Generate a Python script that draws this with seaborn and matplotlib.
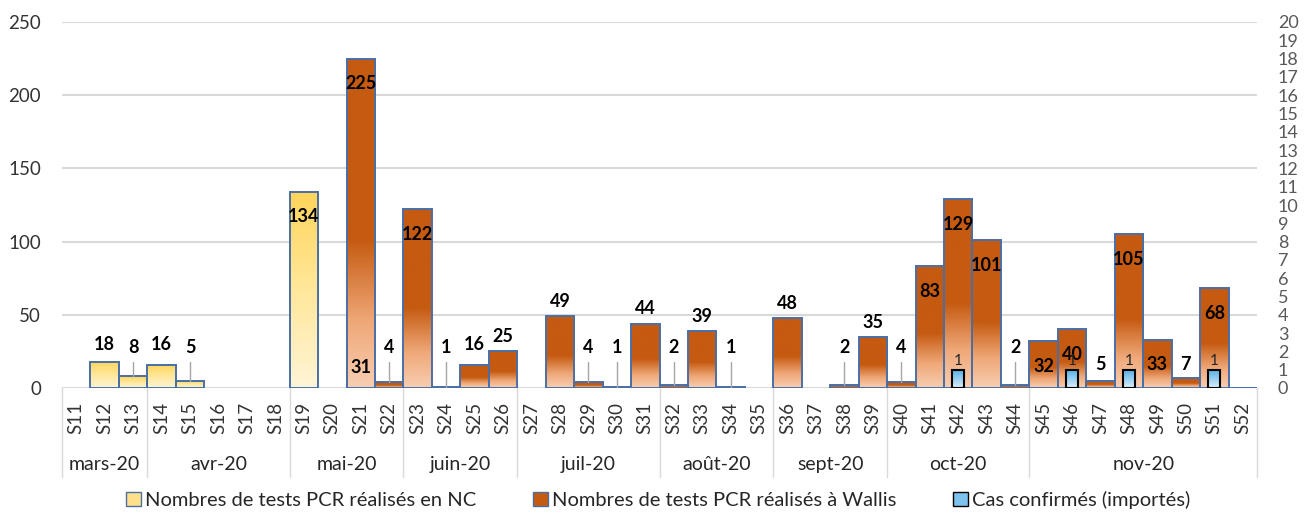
import numpy as np
import pandas as pd
import matplotlib
matplotlib.use("Agg")
import matplotlib.pyplot as plt
import seaborn as sns
from matplotlib.colors import LinearSegmentedColormap
from matplotlib.patches import Patch

# Weeks and months
weeks = ["S%d" % i for i in range(11, 53)]
months = ["mars-20", "avr-20", "mai-20", "juin-20", "juil-20",
          "août-20", "sept-20", "oct-20", "nov-20"]
month_sizes = [3, 5, 4, 4, 5, 4, 4, 5, 8]

# Tests PCR en NC
nc_weeks = ["S12", "S13", "S14", "S15", "S19", "S21"]
nc_values = [18, 8, 16, 5, 134, 31]

# Tests PCR à Wallis
wallis_weeks = ["S21", "S22", "S23", "S24", "S25", "S26", "S28", "S29", "S30",
                "S31", "S32", "S33", "S34", "S36", "S38", "S39", "S40", "S41",
                "S42", "S43", "S44", "S45", "S46", "S47", "S48", "S49", "S50",
                "S51", "S52"]
wallis_values = [225, 4, 122, 1, 16, 25, 49, 4, 1,
                 44, 2, 39, 1, 48, 2, 35, 4, 83,
                 129, 101, 2, 32, 40, 5, 105, 33, 7,
                 68, 0]

# Cas confirmés (importés), axe de droite
cas_weeks = ["S42", "S46", "S48", "S51"]
cas_values = [1, 1, 1, 1]

# label placement styles
inside_nc = ["S19", "S21"]
inside_wallis = ["S45", "S46", "S49"]
low_no_leader = ["S47", "S50"]

sns.set_style("white")
plt.rcParams["font.family"] = ["Lato", "DejaVu Sans"]

df_nc = pd.DataFrame({"week": nc_weeks, "value": nc_values})
df_wallis = pd.DataFrame({"week": wallis_weeks, "value": wallis_values})
df_cas = pd.DataFrame({"week": cas_weeks, "value": cas_values})

fig = plt.figure(figsize=(13.09, 5.13), dpi=100)
ax = fig.add_axes([62 / 1309, 1 - 388 / 513, 1195 / 1309, 366 / 513])

edge = "#4A6FA5"
cmap_nc = LinearSegmentedColormap.from_list("nc", ["#FFF5D6", "#FFE79A", "#FFD45A"])
cmap_wal = LinearSegmentedColormap.from_list(
    "wal", [(0, "#F8CEB2"), (0.2, "#EFA878"), (0.45, "#C55A11"), (1, "#C55A11")])
cmap_cas = LinearSegmentedColormap.from_list("cas", ["#DDEFFB", "#4FAEE6"])

grad = np.linspace(0, 1, 256).reshape(-1, 1)


def gradient_bars(axis, bars, cmap, z):
    for bar in bars:
        x, w, h = bar.get_x(), bar.get_width(), bar.get_height()
        bar.set_facecolor("none")
        bar.set_zorder(z + 0.1)
        if h <= 0:
            continue
        im = axis.imshow(grad, extent=[x, x + w, 0, h], origin="lower",
                         aspect="auto", cmap=cmap, zorder=z, interpolation="bilinear")
        im.set_clip_path(bar)


n0 = len(ax.patches)
sns.barplot(data=df_nc, x="week", y="value", order=weeks, width=1.0, ax=ax,
            color="#FFD966", edgecolor=edge, linewidth=1.4, errorbar=None, saturation=1)
nc_bars = ax.patches[n0:]
n1 = len(ax.patches)
sns.barplot(data=df_wallis, x="week", y="value", order=weeks, width=1.0, ax=ax,
            color="#C55A11", edgecolor=edge, linewidth=1.4, errorbar=None, saturation=1)
wal_bars = ax.patches[n1:]
gradient_bars(ax, nc_bars, cmap_nc, 2)
gradient_bars(ax, wal_bars, cmap_wal, 3)

ax2 = ax.twinx()
sns.barplot(data=df_cas, x="week", y="value", order=weeks, width=0.42, ax=ax2,
            color="#4FAEE6", edgecolor="black", linewidth=1.5, errorbar=None, saturation=1)
gradient_bars(ax2, ax2.patches, cmap_cas, 2)


def add_labels(wk, vals, inside):
    for w, v in zip(wk, vals):
        i = weeks.index(w)
        if v >= 60 or w in inside:
            y = v - 17
        elif w in low_no_leader:
            y = 16
        elif v < 10:
            y = 28
            ax.plot([i, i], [18, v], color="#A6A6A6", lw=1, zorder=4)
        else:
            y = max(v, 20) + 10
        ax.text(i, y, str(v), ha="center", va="center", fontsize=13,
                fontweight="bold", color="black", zorder=6)


add_labels(nc_weeks, nc_values, inside_nc)
add_labels([w for w, v in zip(wallis_weeks, wallis_values) if v > 0],
           [v for v in wallis_values if v > 0], inside_wallis)

for w, v in zip(cas_weeks, cas_values):
    ax2.text(weeks.index(w), v + 0.45, str(v), ha="center", va="center",
             fontsize=11, color="#262626", zorder=6)

# axes styling
ax.set_ylim(0, 250)
ax.set_yticks(range(0, 251, 50))
ax.grid(axis="y", color="#D9D9D9", lw=1.5)
ax.grid(axis="x", visible=False)
ax.set_axisbelow(True)
ax.set_xlim(-0.5, len(weeks) - 0.5)
ax.set_xticks(range(len(weeks)))
ax.set_xticklabels(weeks, rotation=90, fontsize=13.5, color="#333333")
ax.tick_params(axis="x", length=0, pad=10)
ax.tick_params(axis="y", length=0, pad=15, labelsize=13.5, labelcolor="#333333")
ax.set_xlabel("")
ax.set_ylabel("")
for s in ax.spines.values():
    s.set_visible(False)

ax2.set_ylim(0, 20)
ax2.set_yticks(range(0, 21))
ax2.tick_params(axis="y", length=0, pad=15, labelsize=13, labelcolor="#595959")
ax2.set_ylabel("")
for s in ax2.spines.values():
    s.set_visible(False)

# month groups
trans = ax.get_xaxis_transform()
start = 0
bounds = [-0.5]
for m, n in zip(months, month_sizes):
    ax.text(start + n / 2 - 0.5, -0.21, m, transform=trans, ha="center",
            va="center", fontsize=14, color="#262626")
    start += n
    bounds.append(start - 0.5)
for b in bounds:
    ax.plot([b, b], [0, -0.243], transform=trans, color="#D9D9D9", lw=1,
            clip_on=False)

handles = [Patch(facecolor="#FFE08A", edgecolor=edge, lw=1),
           Patch(facecolor="#C55A11", edgecolor=edge, lw=1),
           Patch(facecolor="#7DC3EE", edgecolor="black", lw=1)]
labels = ["Nombres de tests PCR réalisés en NC",
          "Nombres de tests PCR réalisés à Wallis",
          "Cas confirmés (importés)"]
fig.legend(handles, labels, loc="center", bbox_to_anchor=(658 / 1309, 1 - 500 / 513),
           ncol=3, frameon=False, fontsize=14.5, handlelength=0.75, handleheight=0.75,
           handletextpad=0.2, columnspacing=2.8, labelcolor="#262626")

fig.savefig("out.png", dpi=100)
